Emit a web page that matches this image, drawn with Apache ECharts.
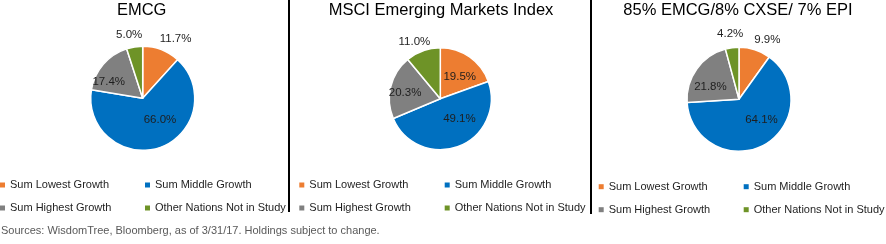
<!DOCTYPE html>
<html>
<head>
<meta charset="utf-8">
<script src="https://cdn.jsdelivr.net/npm/echarts@6/dist/echarts.min.js"></script>
<style>
html,body{margin:0;padding:0;background:#fff;}
#chart{width:886px;height:244px;}
</style>
</head>
<body>
<div id="chart"></div>
<script>
// ---- data ----
const categories = ['Sum Lowest Growth', 'Sum Middle Growth', 'Sum Highest Growth', 'Other Nations Not in Study'];
const chartTitles = ['EMCG', 'MSCI Emerging Markets Index', '85% EMCG/8% CXSE/ 7% EPI'];
const emcgValues = [11.7, 66.0, 17.4, 5.0];
const msciValues = [19.5, 49.1, 20.3, 11.0];
const blendValues = [9.9, 64.1, 21.8, 4.2];
const sourceNote = 'Sources: WisdomTree, Bloomberg, as of 3/31/17. Holdings subject to change.';

// ---- styles / layout ----
const colors = ['#ED7D31', '#0070C0', '#808080', '#6E9327'];
const FONT = '"Liberation Sans", Arial, sans-serif';
const pieCenters = [[142.7, 98.3], [440.3, 98.7], [739, 99.3]];
const pieRadii = [52, 51, 52];
// label nudges (dx, dy) relative to the library's inside-label anchor
const labelNudges = [
  [[22.5, -32.7], [7.7, -5.5], [-12, 2.5], [-9, -35]],
  [[3, 1], [8.8, -6], [-7.5, 1], [-16.2, -30.5]],
  [[19.5, -32], [8.4, -5], [-5, 4.5], [-5, -36.5]]
];
const seriesValues = [emcgValues, msciValues, blendValues];

const chart = echarts.init(document.getElementById('chart'), null, {renderer: 'canvas'});

const series = seriesValues.map((vals, si) => ({
  type: 'pie',
  name: chartTitles[si],
  center: pieCenters[si],
  radius: pieRadii[si],
  startAngle: 90,
  clockwise: true,
  animation: false,
  silent: true,
  itemStyle: {borderColor: '#ffffff', borderWidth: 1.5},
  label: {
    show: true,
    position: 'inside',
    fontFamily: FONT,
    fontSize: 11.5,
    color: '#1e1e1e',
    formatter: p => p.value.toFixed(1) + '%'
  },
  labelLine: {show: false},
  labelLayout: p => ({dx: labelNudges[si][p.dataIndex][0], dy: labelNudges[si][p.dataIndex][1]}),
  emphasis: {disabled: true},
  data: categories.map((c, i) => ({name: c, value: vals[i], itemStyle: {color: colors[i]}}))
}));

const legendCols = [
  {left: 0, top: 178.5, items: [categories[0], categories[2]]},
  {left: 145, top: 178.5, items: [categories[1], categories[3]]},
  {left: 299.3, top: 178.5, items: [categories[0], categories[2]]},
  {left: 444.7, top: 178.5, items: [categories[1], categories[3]]},
  {left: 598.7, top: 180.2, items: [categories[0], categories[2]]},
  {left: 743.7, top: 180.2, items: [categories[1], categories[3]]}
];

const legend = legendCols.map(l => ({
  orient: 'vertical',
  left: l.left,
  top: l.top,
  padding: 0,
  itemWidth: 5,
  itemHeight: 5,
  itemGap: 10,
  icon: 'rect',
  selectedMode: false,
  itemStyle: {borderWidth: 0},
  textStyle: {fontFamily: FONT, fontSize: 11, color: '#1e1e1e', lineHeight: 13},
  data: l.items
}));

const titleX = [141.7, 441, 737.9];
const title = chartTitles.map((t, i) => ({
  text: t,
  left: titleX[i],
  top: 1.5,
  padding: 0,
  textAlign: 'center',
  textStyle: {fontFamily: FONT, fontSize: 16.5, fontWeight: 'normal', color: '#000000'}
}));
title.push({
  text: sourceNote,
  left: 1,
  top: 225.5,
  padding: 0,
  textStyle: {fontFamily: FONT, fontSize: 11, fontWeight: 'normal', color: '#595959'}
});

chart.setOption({
  backgroundColor: '#ffffff',
  animation: false,
  color: colors,
  title: title,
  legend: legend,
  graphic: [
    {type: 'line', shape: {x1: 289, y1: 0, x2: 289, y2: 212}, style: {stroke: '#000', lineWidth: 2}, silent: true},
    {type: 'line', shape: {x1: 591, y1: 0, x2: 591, y2: 214}, style: {stroke: '#000', lineWidth: 2}, silent: true}
  ],
  series: series
});
</script>
</body>
</html>
